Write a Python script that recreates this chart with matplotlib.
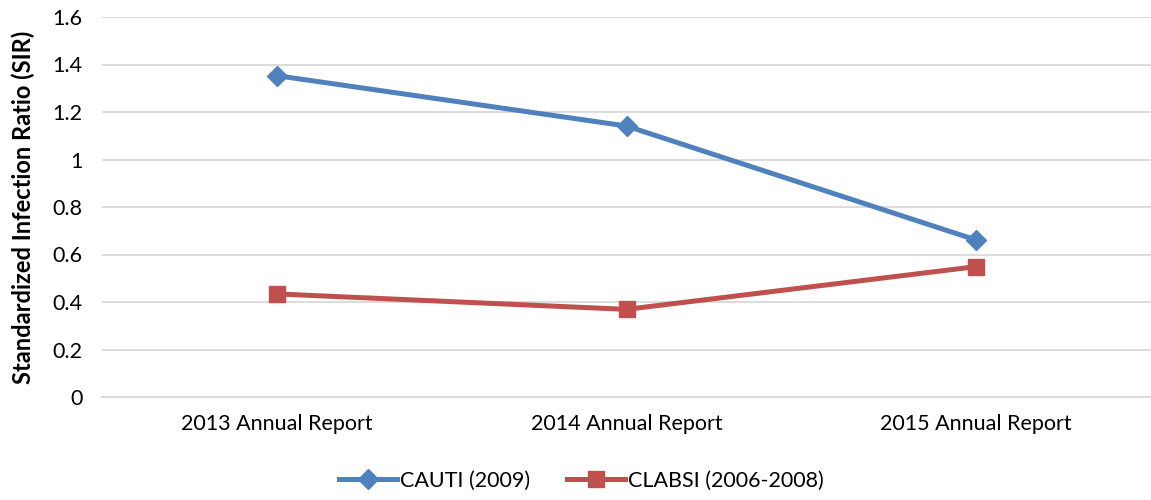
import matplotlib
matplotlib.use("Agg")
import matplotlib.pyplot as plt

categories = ["2013 Annual Report", "2014 Annual Report", "2015 Annual Report"]
cauti = [1.353, 1.141, 0.661]
clabsi = [0.434, 0.369, 0.549]
yticks = [0, 0.2, 0.4, 0.6, 0.8, 1.0, 1.2, 1.4, 1.6]
ytick_labels = ["0", "0.2", "0.4", "0.6", "0.8", "1", "1.2", "1.4", "1.6"]

plt.rcParams['font.family'] = ['Lato', 'DejaVu Sans']

fig = plt.figure(figsize=(11.51, 5.0), dpi=100)
ax = fig.add_axes([102/1151, 1 - 397/500, 1 - 102/1151, 380/500])

x = list(range(len(categories)))
ax.plot(x, cauti, color="#4F81BD", lw=3.6, marker="D", markersize=10.5, label="CAUTI (2009)", zorder=3)
ax.plot(x, clabsi, color="#C0504D", lw=3.6, marker="s", markersize=11, label="CLABSI (2006-2008)", zorder=3)

ax.set_xlim(-0.5, 2.5)
ax.set_ylim(0, 1.6)
ax.set_yticks(yticks)
ax.set_yticklabels(ytick_labels)
ax.set_xticks(x)
ax.set_xticklabels(categories)
ax.tick_params(axis="both", length=0, labelsize=15.5, colors="black")
ax.tick_params(axis="y", pad=14)
ax.tick_params(axis="x", pad=12)
ax.grid(axis="y", color="#D9D9D9", lw=1.3)
ax.set_axisbelow(True)
for s in ["top", "right", "left"]:
    ax.spines[s].set_visible(False)
ax.spines["bottom"].set_color("#D9D9D9")
ax.spines["bottom"].set_linewidth(1.3)

ax.set_ylabel("Standardized Infection Ratio (SIR)", fontsize=17, fontweight="bold")
ax.yaxis.set_label_coords(-0.064, 0.5)

fig.legend(loc="center", bbox_to_anchor=(0.505, 1 - 481/500), ncol=2, frameon=False,
           fontsize=15.5, handlelength=2.7, columnspacing=1.7, handletextpad=0.15)

fig.savefig("out.png", dpi=100)
